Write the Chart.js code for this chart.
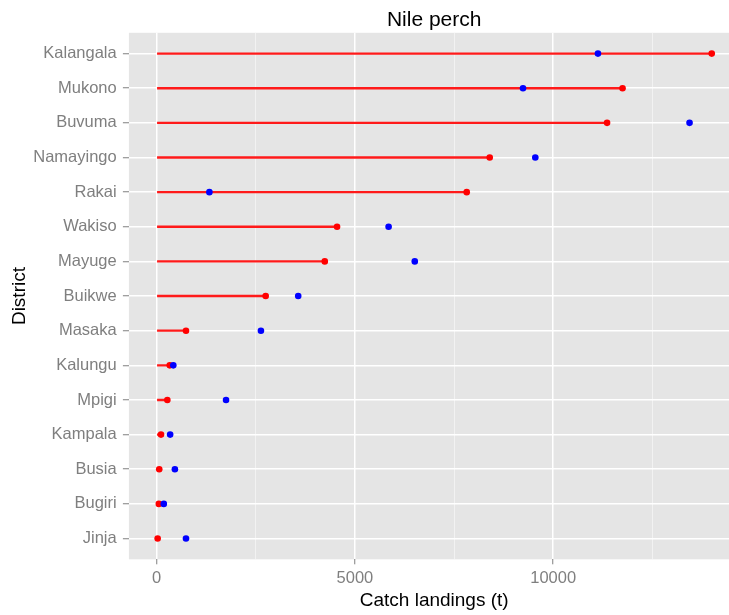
<!DOCTYPE html>
<html>
<head>
<meta charset="utf-8">
<script src="https://cdn.jsdelivr.net/npm/chart.js@4/dist/chart.umd.min.js"></script>
<style>
  html, body { margin: 0; padding: 0; background: #ffffff; overflow: hidden; }
  canvas { display: block; }
</style>
</head>
<body>
<canvas id="c" width="747" height="615"></canvas>
<script>
// ---- data ----
const districts = ['Kalangala','Mukono','Buvuma','Namayingo','Rakai','Wakiso','Mayuge','Buikwe','Masaka','Kalungu','Mpigi','Kampala','Busia','Bugiri','Jinja'];
const redValues  = [14000, 11750, 11360, 8400, 7820, 4550, 4240, 2750, 740, 330, 270, 110, 65, 55, 25];
const blueValues = [11130, 9240, 13440, 9550, 1330, 5850, 6510, 3570, 2630, 420, 1750, 340, 460, 180, 740];
const xTickValues = [0, 2500, 5000, 7500, 10000, 12500];
const xMajorTicks = [0, 5000, 10000];
const chartTitle = 'Nile perch';
const xTitle = 'Catch landings (t)';
const yTitle = 'District';

const FONT = "'Liberation Sans', Arial, sans-serif";
const isMajor = (ctx) => ctx.tick && xMajorTicks.includes(ctx.tick.value);

const panelBg = {
  id: 'panelBg',
  beforeDraw(chart) {
    const { ctx, chartArea: a } = chart;
    ctx.save();
    ctx.fillStyle = '#E5E5E5';
    ctx.fillRect(a.left, a.top, a.right - a.left, a.bottom - a.top);
    ctx.restore();
  }
};

new Chart(document.getElementById('c'), {
  type: 'bar',
  data: {
    datasets: [
      {
        type: 'scatter',
        label: 'blue',
        order: 0,
        data: blueValues.map((v, i) => ({ x: v, y: i })),
        backgroundColor: '#0000FF',
        borderWidth: 0,
        pointRadius: 3.3,
        pointBorderWidth: 0
      },
      {
        type: 'scatter',
        label: 'red',
        order: 1,
        data: redValues.map((v, i) => ({ x: v, y: i })),
        backgroundColor: '#FF0000',
        borderWidth: 0,
        pointRadius: 3.3,
        pointBorderWidth: 0
      },
      {
        type: 'bar',
        label: 'segment',
        order: 2,
        indexAxis: 'y',
        data: redValues.map((v, i) => ({ x: [0, v], y: i })),
        backgroundColor: '#FF1A1A',
        borderWidth: 0,
        barThickness: 1.7
      }
    ]
  },
  options: {
    responsive: false,
    devicePixelRatio: 1,
    animation: false,
    indexAxis: 'y',
    layout: { padding: { left: 0, right: 7.5, top: 0, bottom: 0 } },
    plugins: {
      legend: { display: false },
      tooltip: { enabled: false },
      title: {
        display: true,
        text: chartTitle,
        fullSize: false,
        color: '#000000',
        font: { family: FONT, size: 21, weight: 'normal' },
        padding: { top: 7.6, bottom: 0 }
      }
    },
    scales: {
      x: {
        type: 'linear',
        min: -700,
        max: 14700,
        offset: false,
        afterBuildTicks: (s) => { s.ticks = xTickValues.map(v => ({ value: v })); },
        afterFit: (s) => { s.height = 55.7; },
        border: { display: false },
        grid: {
          offset: false,
          color: (ctx) => isMajor(ctx) ? '#FFFFFF' : '#F2F2F2',
          lineWidth: (ctx) => isMajor(ctx) ? 1.5 : 1,
          tickColor: (ctx) => isMajor(ctx) ? '#7F7F7F' : 'rgba(0,0,0,0)',
          tickWidth: 1,
          tickLength: 5,
          drawTicks: true
        },
        ticks: {
          autoSkip: false,
          maxRotation: 0,
          padding: 4.1,
          color: '#7F7F7F',
          font: { family: FONT, size: 16.5 },
          callback: (v) => xMajorTicks.includes(v) ? String(v) : ''
        },
        title: {
          display: true,
          text: xTitle,
          color: '#000000',
          font: { family: FONT, size: 19 },
          padding: { top: 0, bottom: 3.1 }
        }
      },
      y: {
        type: 'linear',
        min: -0.6,
        max: 14.6,
        reverse: true,
        offset: false,
        afterBuildTicks: (s) => { s.ticks = districts.map((d, i) => ({ value: i })); },
        afterFit: (s) => { s.width = 128.9; },
        border: { display: false },
        grid: {
          offset: false,
          color: '#FFFFFF',
          lineWidth: 1.5,
          tickColor: '#7F7F7F',
          tickWidth: 1,
          tickLength: 6,
          drawTicks: true
        },
        ticks: {
          autoSkip: false,
          padding: 6.2,
          color: '#7F7F7F',
          font: { family: FONT, size: 16.5 },
          callback: (v) => districts[v] !== undefined ? districts[v] : ''
        },
        title: {
          display: true,
          text: yTitle,
          color: '#000000',
          font: { family: FONT, size: 19 },
          padding: { top: 8.6, bottom: 0 }
        }
      }
    }
  },
  plugins: [panelBg]
});
</script>
</body>
</html>
